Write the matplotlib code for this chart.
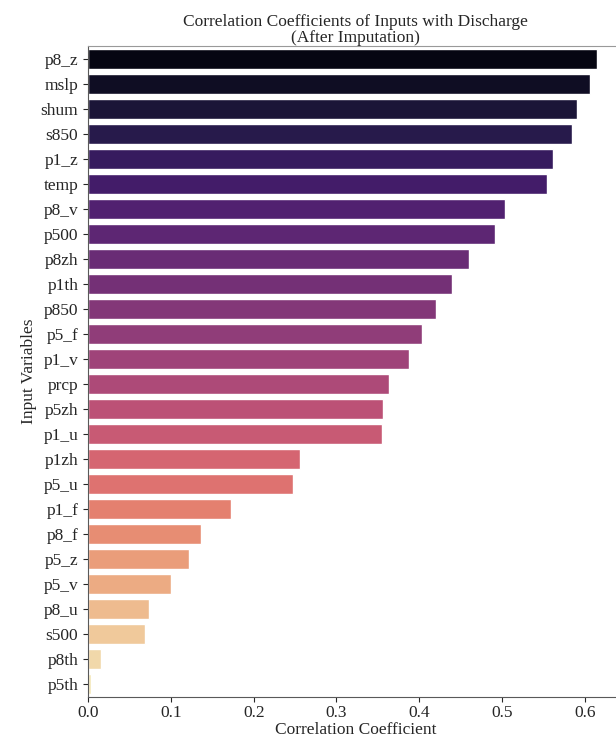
import matplotlib
matplotlib.use("Agg")
import matplotlib.pyplot as plt
import seaborn as sns

# Daten: Variablen und Korrelationskoeffizienten
variables = ["p8_z", "mslp", "shum", "s850", "p1_z", "temp", "p8_v", "p500",
             "p8zh", "p1th", "p850", "p5_f", "p1_v", "prcp", "p5zh", "p1_u",
             "p1zh", "p5_u", "p1_f", "p8_f", "p5_z", "p5_v", "p8_u", "s500",
             "p8th", "p5th"]
correlation = [0.615, 0.606, 0.591, 0.585, 0.561, 0.554, 0.504, 0.491,
               0.460, 0.439, 0.420, 0.403, 0.388, 0.363, 0.356, 0.355,
               0.256, 0.248, 0.173, 0.136, 0.122, 0.100, 0.073, 0.069,
               0.016, 0.004]
x_ticks = [0.0, 0.1, 0.2, 0.3, 0.4, 0.5, 0.6]

sns.set_style("ticks")
plt.rcParams["font.family"] = ["Liberation Serif", "DejaVu Serif"]

# magma-Palette, wie bei seaborn barplot leicht entsättigt
colors = [sns.desaturate(c, 0.75) for c in sns.color_palette("magma", len(variables))]

fig = plt.figure(figsize=(6.16, 7.38), dpi=100)
ax = fig.add_axes([0.143, 0.0556, 0.868, 0.882])

ax.barh(range(len(variables)), correlation, height=0.8, color=colors)
ax.set_yticks(range(len(variables)))
ax.set_yticklabels(variables, fontsize=12.5)
ax.set_ylim(len(variables) - 0.5, -0.5)
ax.set_xlim(0, max(correlation) * 1.05)
ax.set_xticks(x_ticks)
ax.set_xticklabels([f"{t:.1f}" for t in x_ticks], fontsize=12.5)
ax.tick_params(axis="x", pad=2)

ax.set_xlabel("Correlation Coefficient", fontsize=12.5, labelpad=1)
ax.set_ylabel("Input Variables", fontsize=12.5, labelpad=3)
ax.set_title("Correlation Coefficients of Inputs with Discharge\n(After Imputation)",
             fontsize=12.5, linespacing=0.95, pad=3)

for s in ax.spines.values():
    s.set_color("0.35")
ax.spines["top"].set_color("0.6")

fig.savefig("out.png", dpi=100)
